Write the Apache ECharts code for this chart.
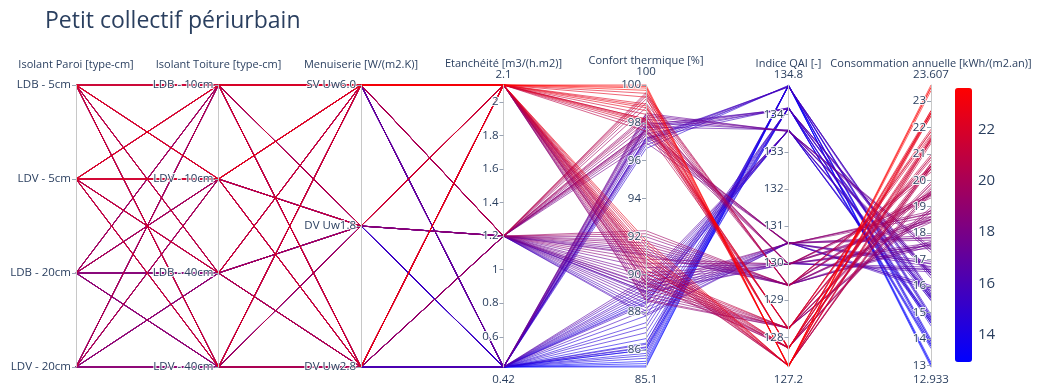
<!DOCTYPE html>
<html><head><meta charset="utf-8">
<script src="https://cdn.jsdelivr.net/npm/echarts@6/dist/echarts.min.js"></script>
<style>html,body{margin:0;padding:0;background:#fff}#c{width:1041px;height:388px}</style>
</head><body><div id="c"></div>
<script>
const chartTitle = 'Petit collectif périurbain';
const axisNames = ['Isolant Paroi [type-cm]', 'Isolant Toiture [type-cm]', 'Menuiserie [W/(m2.K)]',
  'Etanchéité [m3/(h.m2)]', 'Confort thermique [%]', 'Indice QAI [-]', 'Consommation annuelle [kWh/(m2.an)]'];
const paroiCats = ['LDB - 5cm', 'LDV - 5cm', 'LDB - 20cm', 'LDV - 20cm'];
const toitureCats = ['LDB - 10cm', 'LDV - 10cm', 'LDB - 40cm', 'LDV - 40cm'];
const menuiserieCats = ['SV Uw6.0', 'DV Uw1.8', 'DV Uw2.8'];
const etancheiteLevels = [2.1, 1.2, 0.42];
const etancheiteTicks = [0.6, 0.8, 1, 1.2, 1.4, 1.6, 1.8, 2];
const confortTicks = [86, 88, 90, 92, 94, 96, 98, 100];
const qaiTicks = [128, 129, 130, 131, 132, 133, 134];
const consoTicks = [13, 14, 15, 16, 17, 18, 19, 20, 21, 22, 23];
const colorbarTicks = [14, 16, 18, 20, 22];

// one row per (paroi, toiture) pair; columns = menuiserie x etancheite
const confort = [
  [100.0, 99.6, 98.5, 98.2, 97.6, 97.2, 99.0, 98.4, 97.9],
  [99.84, 99.4, 98.32, 98.04, 97.44, 97.06, 98.8, 98.2, 97.72],
  [99.56, 99.05, 98.01, 97.76, 97.16, 96.82, 98.45, 97.85, 97.41],
  [91.8, 92.3, 89.8, 90.2, 89.5, 86.3, 91.0, 90.8, 88.4],
  [99.92, 99.5, 98.41, 98.12, 97.52, 97.13, 98.9, 98.3, 97.81],
  [99.72, 99.25, 98.19, 97.92, 97.32, 96.96, 98.65, 98.05, 97.59],
  [99.36, 98.8, 97.78, 97.56, 96.96, 96.64, 98.2, 97.6, 97.18],
  [91.64, 92.14, 89.64, 90.01, 89.3, 86.16, 90.82, 90.58, 88.11],
  [91.48, 91.98, 89.48, 89.8, 89.08, 86.0, 90.63, 90.35, 87.8],
  [91.28, 91.78, 89.28, 89.56, 88.82, 85.82, 90.4, 90.08, 87.44],
  [90.7, 91.2, 88.7, 88.84, 88.06, 85.28, 89.73, 89.27, 86.36],
  [90.57, 91.07, 88.57, 88.68, 87.89, 85.16, 89.58, 89.09, 86.12],
  [91.15, 91.65, 89.15, 89.4, 88.65, 85.7, 90.25, 89.9, 87.2],
  [90.99, 91.49, 88.99, 89.21, 88.45, 85.56, 90.07, 89.68, 86.91],
  [90.5, 91.0, 88.5, 88.6, 87.8, 85.1, 89.5, 89.0, 86.0],
  [90.83, 91.33, 88.83, 89.0, 88.23, 85.4, 89.88, 89.45, 86.6]
];
const qai = [
  [127.20, 129.37, 133.55, 128.21, 130.51, 134.75, 127.68, 129.95, 134.15],
  [127.21, 129.38, 133.56, 128.22, 130.52, 134.76, 127.69, 129.96, 134.16],
  [127.23, 129.40, 133.58, 128.24, 130.54, 134.78, 127.71, 129.98, 134.18],
  [127.22, 129.39, 133.57, 128.23, 130.53, 134.77, 127.70, 129.97, 134.17],
  [127.21, 129.38, 133.56, 128.22, 130.52, 134.76, 127.69, 129.96, 134.16],
  [127.20, 129.37, 133.55, 128.21, 130.51, 134.75, 127.68, 129.95, 134.15],
  [127.24, 129.41, 133.59, 128.25, 130.55, 134.79, 127.72, 129.99, 134.19],
  [127.23, 129.40, 133.58, 128.24, 130.54, 134.78, 127.71, 129.98, 134.18],
  [127.23, 129.40, 133.58, 128.24, 130.54, 134.78, 127.71, 129.98, 134.18],
  [127.24, 129.41, 133.59, 128.25, 130.55, 134.79, 127.72, 129.99, 134.19],
  [127.25, 129.42, 133.60, 128.26, 130.56, 134.80, 127.73, 130.00, 134.20],
  [127.24, 129.41, 133.59, 128.25, 130.55, 134.79, 127.72, 129.99, 134.19],
  [127.22, 129.39, 133.57, 128.23, 130.53, 134.77, 127.70, 129.97, 134.17],
  [127.23, 129.40, 133.58, 128.24, 130.54, 134.78, 127.71, 129.98, 134.18],
  [127.24, 129.41, 133.59, 128.25, 130.55, 134.79, 127.72, 129.99, 134.19],
  [127.25, 129.42, 133.60, 128.26, 130.56, 134.80, 127.73, 130.00, 134.20]
];
const conso = [
  [23.397, 20.307, 17.267, 21.723, 18.633, 15.593, 22.423, 19.333, 16.293],
  [23.502, 20.407, 17.362, 21.828, 18.733, 15.688, 22.528, 19.433, 16.388],
  [22.452, 19.407, 16.412, 20.778, 17.733, 14.738, 21.478, 18.433, 15.438],
  [22.536, 19.487, 16.488, 20.862, 17.813, 14.814, 21.562, 18.513, 15.514],
  [23.523, 20.427, 17.381, 21.849, 18.753, 15.707, 22.549, 19.453, 16.407],
  [23.607, 20.507, 17.457, 21.933, 18.833, 15.783, 22.633, 19.533, 16.483],
  [22.557, 19.507, 16.507, 20.883, 17.833, 14.833, 21.583, 18.533, 15.533],
  [22.641, 19.587, 16.583, 20.967, 17.913, 14.909, 21.667, 18.613, 15.609],
  [21.402, 18.407, 15.462, 19.728, 16.733, 13.788, 20.428, 17.433, 14.488],
  [21.507, 18.507, 15.557, 19.833, 16.833, 13.883, 20.533, 17.533, 14.583],
  [20.457, 17.507, 14.607, 18.783, 15.833, 12.933, 19.483, 16.533, 13.633],
  [20.541, 17.587, 14.683, 18.867, 15.913, 13.009, 19.567, 16.613, 13.709],
  [21.528, 18.527, 15.576, 19.854, 16.853, 13.902, 20.554, 17.553, 14.602],
  [21.612, 18.607, 15.652, 19.938, 16.933, 13.978, 20.638, 17.633, 14.678],
  [20.562, 17.607, 14.702, 18.888, 15.933, 13.028, 19.588, 16.633, 13.728],
  [20.646, 17.687, 14.778, 18.972, 16.013, 13.104, 19.672, 16.713, 13.804]
];

// build table
const rows = [];
let k = 0;
paroiCats.forEach(p => toitureCats.forEach(t => {
  const r = k++; let j = 0;
  menuiserieCats.forEach(m => etancheiteLevels.forEach(e => {
    rows.push([p, t, m, e, confort[r][j], qai[r][j], conso[r][j]]); j++;
  }));
}));
rows.sort((a, b) => a[6] - b[6]);

const ext = (i) => { const v = rows.map(r => r[i]); return [Math.min(...v), Math.max(...v)]; };
const extents = {3: ext(3), 4: ext(4), 5: ext(5), 6: ext(6)};

const TXT = '#2a3f5f';
const FONT = 'Open Sans';
const PL = 76, PR = 110, PT = 85, PB = 21, W = 1041;
const step = (W - PL - PR) / 6;

const labelStyle = {color: TXT, fontSize: 11.5, fontFamily: FONT, margin: -5, align: 'right',
  textBorderColor: 'rgba(255,255,255,0.9)', textBorderWidth: 2, interval: 0, hideOverlap: false};
const axisLine = {lineStyle: {color: '#c8c8c8', width: 1}};
const axisTick = {show: true, length: -4, lineStyle: {color: '#9aa4b4'}};

function catAxis(i, cats) {
  return {dim: i, type: 'category', data: cats, inverse: true, boundaryGap: false,
    name: axisNames[i], nameLocation: 'start', nameGap: 15,
    nameTextStyle: {color: TXT, fontSize: 11, fontFamily: FONT},
    nameTruncate: {maxWidth: 400},
    axisLine, axisTick: Object.assign({alignWithLabel: true}, axisTick), axisLabel: labelStyle, splitLine: {show: false}};
}
function valAxis(i, ticks) {
  const [mn, mx] = extents[i];
  return {dim: i, type: 'value', min: mn, max: mx,
    name: '{n|' + axisNames[i] + '}\n{v|' + String(mx) + '}', nameLocation: 'end', nameGap: 5,
    nameTextStyle: {color: TXT, fontFamily: FONT,
      rich: {n: {fontSize: 11, color: TXT, fontFamily: FONT, lineHeight: 11, align: 'center'},
             v: {fontSize: 11.5, color: TXT, fontFamily: FONT, lineHeight: 11, align: 'center'}}},
    nameTruncate: {maxWidth: 400},
    axisLine, axisTick: Object.assign({customValues: ticks}, axisTick),
    axisLabel: Object.assign({customValues: ticks}, labelStyle), splitLine: {show: false}};
}

const graphics = [3, 4, 5, 6].map(i => ({
  type: 'text', x: PL + i * step, y: 388 - PB + 13,
  style: {text: String(extents[i][0]), fill: TXT, font: '11.5px "Open Sans"', textAlign: 'center', textVerticalAlign: 'middle'}
}));

const chart = echarts.init(document.getElementById('c'), null, {renderer: 'canvas'});
chart.setOption({
  animation: false,
  backgroundColor: '#fff',
  textStyle: {fontFamily: FONT},
  title: {text: chartTitle, left: 40, top: 5,
    textStyle: {fontSize: 23, fontWeight: 'normal', color: TXT, fontFamily: FONT}},
  parallel: {left: PL, right: PR, top: PT, bottom: PB, layout: 'horizontal'},
  parallelAxis: [
    catAxis(0, paroiCats), catAxis(1, toitureCats), catAxis(2, menuiserieCats),
    valAxis(3, etancheiteTicks), valAxis(4, confortTicks), valAxis(5, qaiTicks), valAxis(6, consoTicks)
  ],
  visualMap: {type: 'continuous', min: extents[6][0], max: extents[6][1], dimension: 6, seriesIndex: 0,
    inRange: {color: ['#0000ff', '#ff0000']}, left: 955, top: 88, itemWidth: 17, itemHeight: 274,
    calculable: false, padding: 0, text: null, showLabel: false, hoverLink: false},
  grid: {left: 955, top: 88, width: 17, height: 274},
  xAxis: {type: 'value', show: false},
  yAxis: {type: 'value', position: 'right', min: extents[6][0], max: extents[6][1],
    axisLine: {show: false}, axisTick: {show: false}, splitLine: {show: false},
    axisLabel: {customValues: colorbarTicks, fontSize: 15, color: TXT, fontFamily: FONT, margin: 6}},
  graphic: graphics,
  series: [{type: 'parallel', data: rows, silent: true,
    lineStyle: {width: 0.6, opacity: 1}, emphasis: {disabled: true}, progressive: 0}]
});
</script></body></html>
